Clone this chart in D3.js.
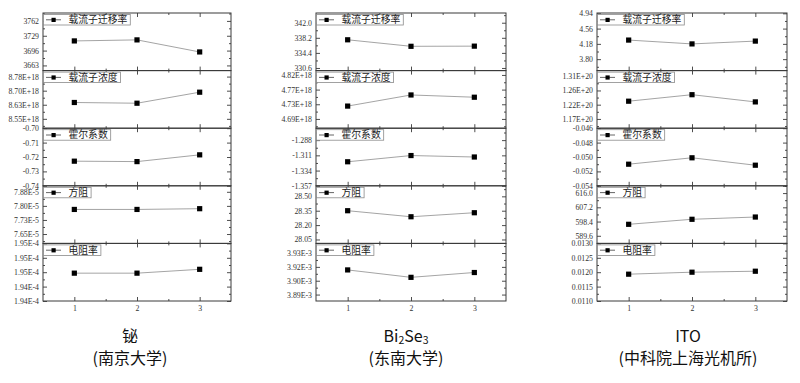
<!DOCTYPE html>
<html><head><meta charset="utf-8">
<script src="https://cdn.jsdelivr.net/npm/d3@7"></script>
<style>body{margin:0;background:#fff;} svg{display:block;}</style>
</head><body><svg id="c" width="800" height="383"></svg>
<script>
// ---------- data ----------
const samples = [1, 2, 3];
const metrics = ["载流子迁移率", "载流子浓度", "霍尔系数", "方阻", "电阻率"];
const materials = ["铋", "Bi2Se3", "ITO"];
const institutes = ["(南京大学)", "(东南大学)", "(中科院上海光机所)"];

// 铋 (南京大学)
const biValues = [
  [3717.5, 3719.8, 3693.0],
  [8.639e18, 8.635e18, 8.695e18],
  [-0.7229, -0.7232, -0.7185],
  [7.781e-5, 7.781e-5, 7.785e-5],
  [1.9459e-4, 1.9459e-4, 1.9463e-4]
];
const biDomains = [[3651.5, 3779.6], [8.499e18, 8.8126e18], [-0.74, -0.70], [7.60e-5, 7.907e-5], [1.9430e-4, 1.9490e-4]];
const biTicks = [
  [3663, 3696, 3729, 3762],
  [8.55e18, 8.6267e18, 8.7033e18, 8.78e18],
  [-0.74, -0.73, -0.72, -0.71, -0.70],
  [7.65e-5, 7.725e-5, 7.80e-5, 7.875e-5],
  [1.9430e-4, 1.9445e-4, 1.9460e-4, 1.9475e-4, 1.9490e-4]
];
const biTickLabels = [
  ["3663", "3696", "3729", "3762"],
  ["8.55E+18", "8.63E+18", "8.70E+18", "8.78E+18"],
  ["-0.74", "-0.73", "-0.72", "-0.71", "-0.70"],
  ["7.65E-5", "7.73E-5", "7.80E-5", "7.88E-5"],
  ["1.94E-4", "1.94E-4", "1.95E-4", "1.95E-4", "1.95E-4"]
];

// Bi2Se3 (东南大学)
const bseValues = [
  [337.7, 336.06, 336.1],
  [4.7246e18, 4.7576e18, 4.7509e18],
  [-1.3207, -1.3113, -1.3135],
  [28.35, 28.287, 28.329],
  [3.9141e-3, 3.9058e-3, 3.9112e-3]
];
const bseDomains = [[329.94, 344.45], [4.659e18, 4.8299e18], [-1.357, -1.270], [28.009, 28.61], [3.8793e-3, 3.9438e-3]];
const bseTicks = [
  [330.6, 334.4, 338.2, 342.0],
  [4.6865e18, 4.73e18, 4.7735e18, 4.817e18],
  [-1.357, -1.334, -1.311, -1.288],
  [28.05, 28.20, 28.35, 28.50],
  [3.8865e-3, 3.902e-3, 3.9175e-3, 3.933e-3]
];
const bseTickLabels = [
  ["330.6", "334.4", "338.2", "342.0"],
  ["4.69E+18", "4.73E+18", "4.77E+18", "4.82E+18"],
  ["-1.357", "-1.334", "-1.311", "-1.288"],
  ["28.05", "28.20", "28.35", "28.50"],
  ["3.89E-3", "3.90E-3", "3.92E-3", "3.93E-3"]
];

// ITO (中科院上海光机所)
const itoValues = [
  [4.2745, 4.179, 4.249],
  [1.2281e20, 1.2494e20, 1.2258e20],
  [-0.0510, -0.05011, -0.05114],
  [596.7, 599.8, 601.2],
  [0.011931, 0.0120, 0.012034]
];
const itoDomains = [[3.515, 4.948], [1.1396e20, 1.3284e20], [-0.054, -0.046], [584.9, 620.5], [0.0110, 0.0130]];
const itoTicks = [
  [3.80, 4.18, 4.56, 4.94],
  [1.17e20, 1.2167e20, 1.2633e20, 1.31e20],
  [-0.054, -0.052, -0.050, -0.048, -0.046],
  [589.6, 598.4, 607.2, 616.0],
  [0.0110, 0.0115, 0.0120, 0.0125, 0.0130]
];
const itoTickLabels = [
  ["3.80", "4.18", "4.56", "4.94"],
  ["1.17E+20", "1.22E+20", "1.26E+20", "1.31E+20"],
  ["-0.054", "-0.052", "-0.050", "-0.048", "-0.046"],
  ["589.6", "598.4", "607.2", "616.0"],
  ["0.0110", "0.0115", "0.0120", "0.0125", "0.0130"]
];

// ---------- layout ----------
const panels = [
  { values: biValues, domains: biDomains, ticks: biTicks, labels: biTickLabels, l: 43, r: 231, cx: 130 },
  { values: bseValues, domains: bseDomains, ticks: bseTicks, labels: bseTickLabels, l: 316, r: 506, cx: 406 },
  { values: itoValues, domains: itoDomains, ticks: itoTicks, labels: itoTickLabels, l: 597, r: 787, cx: 688 }
];
const plotTop = 13, plotBottom = 301, subH = (plotBottom - plotTop) / metrics.length;
const frameColor = "#3a3a3a";
const tickFont = "'Liberation Serif', 'DejaVu Serif', serif";
const cjkFont = "'Noto Sans CJK SC', 'Noto Sans', sans-serif";

const svg = d3.select("#c");

function minorOf(ticks, dom) {
  const step = (ticks[1] - ticks[0]);
  const lo = Math.min(dom[0], dom[1]), hi = Math.max(dom[0], dom[1]);
  const out = [];
  for (let k = -3; k <= ticks.length + 3; k++) {
    const v = ticks[0] + (k + 0.5) * step;
    if (v > lo && v < hi) out.push(v);
  }
  return out;
}

function styleAxis(g, showText) {
  g.select(".domain").remove();
  g.selectAll(".tick line").attr("stroke", frameColor).attr("stroke-width", 0.9);
  g.selectAll(".tick text").attr("fill", "#333").attr("font-family", tickFont).attr("font-size", 7.8);
  if (!showText) g.selectAll(".tick text").remove();
}

panels.forEach((p, i) => {
  const x = d3.scaleLinear().domain([0.5, 3.5]).range([p.l, p.r]);
  metrics.forEach((m, j) => {
    const y0 = plotTop + j * subH, y1 = y0 + subH;
    const y = d3.scaleLinear().domain(p.domains[j]).range([y1, y0]);
    const g = svg.append("g");

    // left axis (major + minor)
    g.append("g").attr("transform", `translate(${p.l},0)`)
      .call(d3.axisLeft(y).tickValues(p.ticks[j]).tickFormat((d, k) => p.labels[j][k])
        .tickSizeInner(-4).tickSizeOuter(0).tickPadding(4))
      .call(a => styleAxis(a, true));
    g.append("g").attr("transform", `translate(${p.l},0)`)
      .call(d3.axisLeft(y).tickValues(minorOf(p.ticks[j], p.domains[j])).tickFormat("")
        .tickSizeInner(-2).tickSizeOuter(0))
      .call(a => styleAxis(a, false));
    // right axis
    g.append("g").attr("transform", `translate(${p.r},0)`)
      .call(d3.axisRight(y).tickValues(p.ticks[j]).tickSizeInner(-4).tickSizeOuter(0))
      .call(a => styleAxis(a, false));
    g.append("g").attr("transform", `translate(${p.r},0)`)
      .call(d3.axisRight(y).tickValues(minorOf(p.ticks[j], p.domains[j])).tickSizeInner(-2).tickSizeOuter(0))
      .call(a => styleAxis(a, false));
    // top axis
    g.append("g").attr("transform", `translate(0,${y0})`)
      .call(d3.axisTop(x).tickValues(samples).tickSizeInner(-4).tickSizeOuter(0))
      .call(a => styleAxis(a, false));
    g.append("g").attr("transform", `translate(0,${y0})`)
      .call(d3.axisTop(x).tickValues([1.5, 2.5]).tickSizeInner(-2).tickSizeOuter(0))
      .call(a => styleAxis(a, false));
    // bottom axis
    g.append("g").attr("transform", `translate(0,${y1})`)
      .call(d3.axisBottom(x).tickValues(samples).tickFormat(d3.format("d")).tickSizeInner(-4).tickSizeOuter(0).tickPadding(4.5))
      .call(a => styleAxis(a, j === metrics.length - 1));
    g.append("g").attr("transform", `translate(0,${y1})`)
      .call(d3.axisBottom(x).tickValues([1.5, 2.5]).tickSizeInner(-2).tickSizeOuter(0))
      .call(a => styleAxis(a, false));

    // frame
    g.append("rect").attr("x", p.l).attr("y", y0).attr("width", p.r - p.l).attr("height", subH)
      .attr("fill", "none").attr("stroke", frameColor).attr("stroke-width", 1);

    // data line + markers
    const pts = samples.map((s, k) => [s, p.values[j][k]]);
    g.append("path").datum(pts)
      .attr("d", d3.line().x(d => x(d[0])).y(d => y(d[1])))
      .attr("fill", "none").attr("stroke", "#9a9a9a").attr("stroke-width", 0.9);
    g.selectAll("rect.mk").data(pts).join("rect").attr("class", "mk")
      .attr("x", d => x(d[0]) - 2.6).attr("y", d => y(d[1]) - 2.6)
      .attr("width", 5.2).attr("height", 5.2).attr("fill", "#000");

    // legend
    const lg = g.append("g");
    const box = lg.append("rect").attr("x", p.l + 0.5).attr("y", y0 + 1.5).attr("height", 10.5)
      .attr("fill", "#fff").attr("stroke", "#8a8a8a").attr("stroke-width", 0.8);
    lg.append("line").attr("x1", p.l + 3).attr("x2", p.l + 18).attr("y1", y0 + 6.8).attr("y2", y0 + 6.8)
      .attr("stroke", "#555").attr("stroke-width", 0.9);
    lg.append("rect").attr("x", p.l + 8.5).attr("y", y0 + 4.8).attr("width", 4.2).attr("height", 4.2).attr("fill", "#000");
    const t = lg.append("text").attr("x", p.l + 25.5).attr("y", y0 + 10.2)
      .attr("font-family", cjkFont).attr("font-size", 9.8).attr("fill", "#222").text(m);
    const w = t.node().getComputedTextLength();
    box.attr("width", 25 + w + 3);
  });

  // caption
  const cap = svg.append("text").attr("x", p.cx).attr("y", 342).attr("text-anchor", "middle")
    .attr("font-family", cjkFont).attr("font-size", 16).attr("fill", "#111");
  if (materials[i] === "Bi2Se3") {
    cap.append("tspan").text("Bi");
    cap.append("tspan").attr("font-size", 10.5).attr("dy", 2).text("2");
    cap.append("tspan").attr("dy", -2).text("Se");
    cap.append("tspan").attr("font-size", 10.5).attr("dy", 2).text("3");
  } else {
    cap.text(materials[i]);
  }
  svg.append("text").attr("x", p.cx).attr("y", 364).attr("text-anchor", "middle")
    .attr("font-family", cjkFont).attr("font-size", 16).attr("fill", "#111").text(institutes[i]);
});
</script>
</body></html>
